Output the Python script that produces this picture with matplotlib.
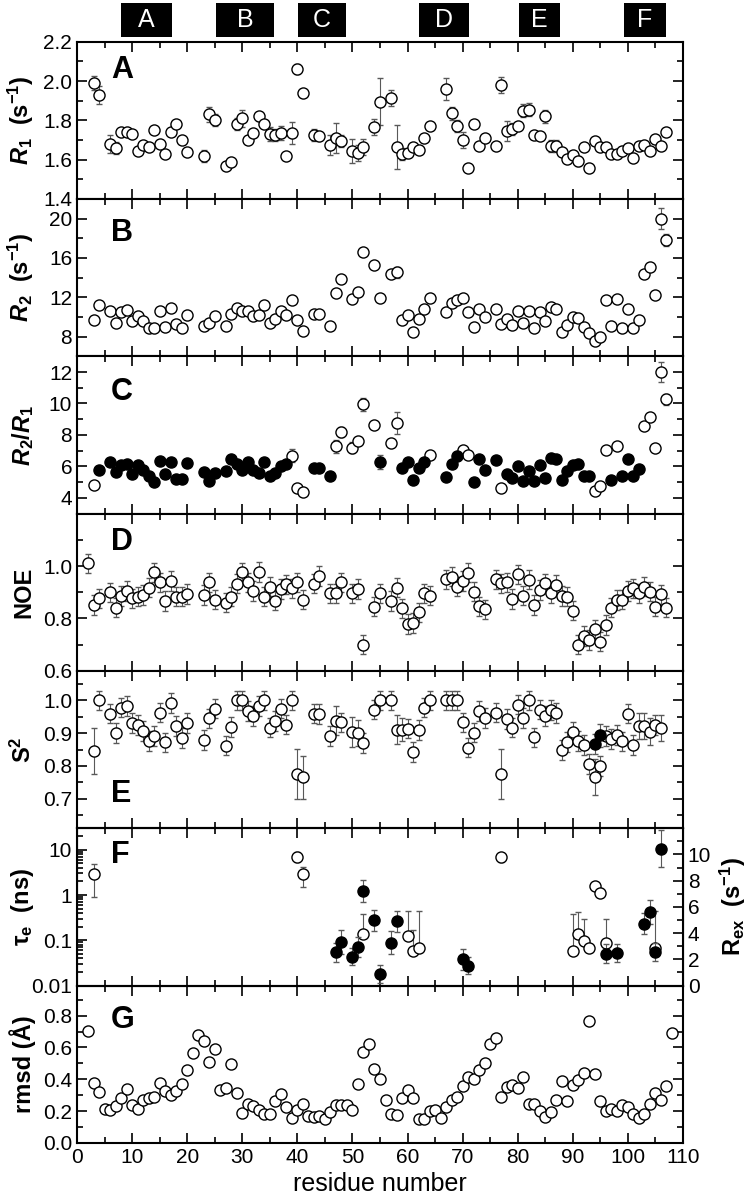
import matplotlib
matplotlib.use('Agg')
import matplotlib.pyplot as plt
import matplotlib.transforms as mtransforms
from matplotlib.patches import Rectangle
from matplotlib.ticker import MultipleLocator, LogLocator, NullFormatter

plt.rcParams['font.family'] = ['Liberation Sans', 'DejaVu Sans']
plt.rcParams['mathtext.fontset'] = 'custom'
plt.rcParams['mathtext.rm'] = 'Liberation Sans:bold'
plt.rcParams['mathtext.it'] = 'Liberation Sans:italic:bold'
plt.rcParams['mathtext.bf'] = 'Liberation Sans:bold'

# helices drawn as black boxes above the top panel
helix_names = ['A', 'B', 'C', 'D', 'E', 'F']
helix_start = [8.0, 25.3, 40.1, 62.1, 80.3, 99.2]
helix_end = [17.3, 35.8, 48.9, 71.2, 87.6, 106.9]

# residues with relaxation data (panels A-C)
res_relax = ([3, 4] + list(range(6, 21)) + [23, 24, 25] + list(range(27, 42)) + [43, 44]
             + [46, 47, 48] + [50, 51, 52] + [54, 55] + list(range(57, 65))
             + list(range(67, 75)) + list(range(76, 108)))

r1 = [1.99, 1.93,
      1.68, 1.66, 1.74, 1.74, 1.73, 1.645, 1.675, 1.665, 1.75, 1.68, 1.63, 1.74, 1.78, 1.70, 1.64,
      1.62, 1.83, 1.80,
      1.57, 1.59, 1.78, 1.81, 1.70, 1.735, 1.82, 1.78, 1.73, 1.725, 1.735, 1.62, 1.735, 2.06, 1.94,
      1.725, 1.72,
      1.675, 1.71, 1.695,
      1.645, 1.635, 1.665,
      1.765, 1.895,
      1.915, 1.665, 1.63, 1.635, 1.665, 1.65, 1.71, 1.77,
      1.96, 1.835, 1.77, 1.70, 1.56, 1.78, 1.67, 1.71,
      1.67, 1.98, 1.745, 1.755, 1.77, 1.85, 1.855, 1.725, 1.72, 1.82, 1.67, 1.67, 1.64, 1.605,
      1.625, 1.595, 1.665, 1.56, 1.695, 1.665, 1.665, 1.63, 1.63, 1.645, 1.66, 1.61, 1.67, 1.675,
      1.645, 1.705, 1.67, 1.74]
r1_err_default = 0.018
r1_err_extra = {3: 0.035, 4: 0.045, 6: 0.045, 7: 0.03, 23: 0.03, 24: 0.04, 25: 0.03, 29: 0.03,
                30: 0.045, 33: 0.025, 35: 0.035, 36: 0.03, 37: 0.035, 39: 0.055, 40: 0.025,
                43: 0.03, 46: 0.05, 47: 0.075, 48: 0.03, 50: 0.06, 51: 0.04, 52: 0.04, 54: 0.04,
                55: 0.12, 57: 0.04, 58: 0.11, 59: 0.03, 67: 0.055, 68: 0.035, 69: 0.03, 70: 0.04,
                77: 0.04, 78: 0.05, 79: 0.03, 81: 0.035, 82: 0.035, 85: 0.035, 86: 0.03,
                87: 0.03, 91: 0.025}

r2 = [9.74, 11.22,
      10.58, 9.37, 10.51, 10.7, 9.57, 10.07, 9.6, 8.89, 8.89, 10.65, 9.0, 10.92, 9.3, 8.89, 10.2,
      9.13, 9.4, 10.14,
      9.1, 10.28, 10.88, 10.65, 10.65, 10.14, 10.2, 11.26, 9.37, 9.84, 10.65, 10.18, 11.73, 9.67, 8.55,
      10.31, 10.28,
      9.1, 12.4, 13.86,
      11.8, 12.5, 16.59,
      15.27, 11.9,
      14.36, 14.56, 9.7, 10.24, 8.52, 9.8, 10.78, 11.96,
      10.51, 11.42, 11.73, 11.9, 10.55, 9.03, 10.82, 10.04,
      10.85, 9.3, 9.77, 9.23, 10.65, 9.43, 10.65, 8.83, 10.55, 9.57, 11.02, 10.78, 8.49, 9.16,
      9.97, 9.9, 9.03, 8.42, 7.51, 7.98, 11.76, 9.1, 11.83, 8.83, 10.82, 8.83, 9.74, 14.4,
      15.07, 12.27, 20.0, 17.87]
r2_err_default = 0.22
r2_err_extra = {39: 0.4, 52: 0.35, 57: 0.4, 58: 0.55, 105: 0.3, 106: 1.1, 107: 0.6}

r2r1 = [4.82, 5.74,
        6.27, 5.64, 6.08, 6.16, 5.51, 6.1, 5.78, 5.38, 4.98, 6.35, 5.49, 6.27, 5.17, 5.2, 6.2,
        5.64, 5.09, 5.57,
        5.72, 6.48, 6.14, 5.78, 6.25, 5.76, 5.55, 6.31, 5.38, 5.57, 6.0, 6.16, 6.69, 4.65, 4.38,
        5.93, 5.93,
        5.38, 7.27, 8.18,
        7.18, 7.59, 9.94,
        8.64, 6.27,
        7.48, 8.74, 5.89, 6.25, 5.13, 5.89, 6.29, 6.71,
        5.34, 6.18, 6.65, 7.02, 6.71, 4.98, 6.5, 5.8,
        6.4, 4.65, 5.53, 5.26, 6.0, 5.05, 5.72, 5.09, 6.1, 5.26, 6.56, 6.44, 5.15, 5.7, 6.1,
        6.18, 5.4, 5.4, 4.46, 4.78, 7.04, 5.15, 7.27, 5.36, 6.44, 5.42, 5.82, 8.56, 9.15, 7.17,
        12.0, 10.26]
r2r1_open_res = [3, 39, 40, 41, 47, 48, 50, 51, 52, 54, 57, 58, 64, 70, 71, 77, 94, 95, 96, 98,
                 103, 104, 105, 106, 107]
r2r1_err_default = 0.15
r2r1_err_extra = {3: 0.2, 39: 0.4, 47: 0.4, 48: 0.3, 50: 0.35, 52: 0.4, 55: 0.45, 58: 0.7,
                  64: 0.25, 96: 0.25, 106: 0.65, 107: 0.35}

# heteronuclear NOE
res_noe = [2] + res_relax
noe = [1.01, 0.851, 0.877,
       0.90, 0.841, 0.886, 0.905, 0.877, 0.883, 0.89, 0.917, 0.976, 0.938, 0.867, 0.943, 0.883,
       0.883, 0.893,
       0.89, 0.938, 0.872,
       0.86, 0.883, 0.933, 0.976, 0.938, 0.905, 0.978, 0.883, 0.921, 0.868, 0.912, 0.93, 0.915,
       0.938, 0.872,
       0.933, 0.962,
       0.896, 0.896, 0.938,
       0.896, 0.912, 0.70,
       0.845, 0.896,
       0.867, 0.917, 0.839, 0.779, 0.782, 0.823, 0.896, 0.887,
       0.949, 0.959, 0.921, 0.943, 0.975, 0.902, 0.846, 0.835,
       0.949, 0.934, 0.938, 0.874, 0.968, 0.887, 0.948, 0.851, 0.909, 0.934, 0.897, 0.928,
       0.886, 0.883, 0.83, 0.70, 0.733, 0.718, 0.759, 0.712, 0.775, 0.841, 0.87, 0.872, 0.905,
       0.915, 0.896, 0.921, 0.902, 0.845, 0.892, 0.841]
noe_err = 0.037

# order parameters
res_s2 = res_relax[:-1]
s2 = [0.846, 1.0,
      0.96, 0.901, 0.978, 0.983, 0.932, 0.925, 0.907, 0.876, 0.892, 0.963, 0.872, 0.993, 0.921,
      0.886, 0.932,
      0.879, 0.945, 0.975,
      0.862, 0.919, 1.0, 1.0, 0.968, 0.953, 0.983, 1.0, 0.917, 0.938, 0.975, 0.926, 1.0, 0.775,
      0.765,
      0.96, 0.958,
      0.892, 0.938, 0.933,
      0.904, 0.9, 0.869,
      0.972, 1.0,
      1.0, 0.911, 0.911, 0.914, 0.842, 0.909, 0.978, 1.0,
      1.0, 1.0, 1.0, 0.933, 0.856, 0.902, 0.967, 0.947,
      0.963, 0.775, 0.943, 0.917, 0.987, 0.947, 1.0, 0.887, 0.972, 0.953, 0.97, 0.962, 0.849,
      0.874, 0.904, 0.876, 0.864, 0.806, 0.766, 0.799, 0.891, 0.882, 0.895, 0.875, 0.96, 0.863,
      0.922, 0.922, 0.905, 0.925, 0.915]
s2_err_default = 0.03
s2_err_extra = {3: 0.07, 40: 0.076, 41: 0.065, 47: 0.045, 50: 0.045, 51: 0.04, 58: 0.045,
                59: 0.035, 77: 0.077, 94: 0.055, 102: 0.04, 103: 0.04, 104: 0.04, 106: 0.04}
s2_filled_res = [94, 95]
s2_filled = [0.866, 0.894]
s2_filled_err = [0.03, 0.035]

# internal correlation times (left axis) and exchange terms (right axis)
tau_res = [3, 40, 41, 52, 60, 61, 62, 77, 90, 91, 92, 93, 94, 95, 96, 105]
tau = [2.85, 6.9, 2.94, 0.135, 0.125, 0.058, 0.068, 6.8, 0.058, 0.14, 0.097, 0.066, 1.62, 1.12,
       0.089, 0.069]
tau_lo = [0.9, 5.5, 1.5, 0.12, 0.11, 0.05, 0.06, 5.5, 0.05, 0.12, 0.09, 0.055, 1.5, 0.9, 0.08, 0.06]
tau_hi = [4.8, 9.0, 4.1, 0.38, 0.45, 0.17, 0.45, 8.5, 0.39, 0.42, 0.30, 0.08, 1.8, 1.4, 0.30, 0.45]

rex_res = [47, 48, 50, 51, 52, 54, 55, 57, 58, 70, 71, 96, 98, 103, 104, 105, 106]
rex = [2.52, 3.3, 2.19, 2.92, 7.23, 4.96, 0.86, 3.27, 4.89, 2.02, 1.49, 2.43, 2.5, 4.72, 5.6,
       2.56, 10.43]
rex_err = [0.75, 0.9, 0.65, 0.75, 0.85, 0.8, 0.7, 0.85, 0.8, 0.8, 0.65, 0.7, 0.7, 0.8, 0.9, 0.7, 1.4]

# rmsd of the structure ensemble
res_rmsd = list(range(2, 109))
rmsd = [0.704, 0.375, 0.317, 0.215, 0.206, 0.233, 0.285, 0.34, 0.24, 0.215, 0.27, 0.28, 0.29,
        0.375, 0.323, 0.298, 0.327, 0.373, 0.456, 0.563, 0.68, 0.64, 0.506, 0.59, 0.333, 0.342,
        0.496, 0.313, 0.188, 0.244, 0.229, 0.208, 0.183, 0.183, 0.26, 0.306, 0.223, 0.156, 0.204,
        0.246, 0.167, 0.16, 0.171, 0.152, 0.194, 0.24, 0.235, 0.24, 0.204, 0.371, 0.569, 0.619,
        0.463, 0.402, 0.271, 0.183, 0.177, 0.281, 0.333, 0.281, 0.152, 0.15, 0.198, 0.208, 0.156,
        0.225, 0.269, 0.29, 0.358, 0.417, 0.402, 0.458, 0.5, 0.619, 0.66, 0.288, 0.354, 0.365,
        0.344, 0.413, 0.246, 0.246, 0.198, 0.163, 0.192, 0.267, 0.392, 0.26, 0.365, 0.396, 0.442,
        0.765, 0.431, 0.26, 0.198, 0.213, 0.198, 0.235, 0.223, 0.183, 0.156, 0.183, 0.246, 0.313,
        0.271, 0.358, 0.694]


def errs(res, default, extra):
    return [extra.get(r, default) for r in res]


def dots(ax, x, y, yerr=None, filled=False):
    ax.errorbar(x, y, yerr=yerr, fmt='o', ms=8, mfc='black' if filled else 'white',
                mec='black', mew=1.0, ecolor='0.35', elinewidth=0.8, capsize=2.5,
                capthick=0.8, zorder=3)


def pick(res, vals, keep):
    xs = [r for r in res if r in keep]
    ys = [v for r, v in zip(res, vals) if r in keep]
    return xs, ys


W, H = 748, 1200
left, right = 77, 683
top0, ph = 41.7, 157.3

fig = plt.figure(figsize=(W / 100, H / 100), dpi=100)
axes = []
for i in range(7):
    top = top0 + i * ph
    ax = fig.add_axes([left / W, 1 - (top + ph) / H, (right - left) / W, ph / H])
    ax.set_xlim(0, 110)
    ax.xaxis.set_major_locator(MultipleLocator(10))
    ax.xaxis.set_minor_locator(MultipleLocator(5))
    ax.tick_params(which='both', direction='in', top=True, right=True, width=1.2, labelsize=15)
    ax.tick_params(which='major', length=7)
    ax.tick_params(which='minor', length=4)
    if i < 6:
        ax.tick_params(labelbottom=False)
    for s in ax.spines.values():
        s.set_linewidth(1.5)
    axes.append(ax)

axA, axB, axC, axD, axE, axF, axG = axes
lab_kw = dict(fontsize=17, fontweight='bold')

# A: R1
dots(axA, res_relax, r1, errs(res_relax, r1_err_default, r1_err_extra))
axA.set_ylim(1.4, 2.2)
axA.set_yticks([1.4, 1.6, 1.8, 2.0, 2.2], ['1.4', '1.6', '1.8', '2.0', '2.2'])
axA.yaxis.set_minor_locator(MultipleLocator(0.1))
axA.set_ylabel(r'$R_1$  (s$^{-1}$)', **lab_kw)

# B: R2
dots(axB, res_relax, r2, errs(res_relax, r2_err_default, r2_err_extra))
axB.set_ylim(6, 22)
axB.set_yticks([8, 12, 16, 20])
axB.yaxis.set_minor_locator(MultipleLocator(2))
axB.set_ylabel(r'$R_2$  (s$^{-1}$)', **lab_kw)

# C: R2/R1, filled where the ratio is in the normal range
c_err = errs(res_relax, r2r1_err_default, r2r1_err_extra)
filled_res = [r for r in res_relax if r not in r2r1_open_res]
xo, yo = pick(res_relax, r2r1, r2r1_open_res)
_, eo = pick(res_relax, c_err, r2r1_open_res)
xf, yf = pick(res_relax, r2r1, filled_res)
_, ef = pick(res_relax, c_err, filled_res)
dots(axC, xo, yo, eo)
dots(axC, xf, yf, ef, filled=True)
axC.set_ylim(3, 13)
axC.set_yticks([4, 6, 8, 10, 12])
axC.yaxis.set_minor_locator(MultipleLocator(1))
axC.set_ylabel(r'$R_2$/$R_1$', **lab_kw)

# D: NOE
dots(axD, res_noe, noe, noe_err)
axD.set_ylim(0.6, 1.2)
axD.set_yticks([0.6, 0.8, 1.0], ['0.6', '0.8', '1.0'])
axD.yaxis.set_minor_locator(MultipleLocator(0.1))
axD.set_ylabel('NOE', **lab_kw)

# E: S2
dots(axE, res_s2, s2, errs(res_s2, s2_err_default, s2_err_extra))
dots(axE, s2_filled_res, s2_filled, s2_filled_err, filled=True)
axE.set_ylim(0.61, 1.09)
axE.set_yticks([0.7, 0.8, 0.9, 1.0], ['0.7', '0.8', '0.9', '1.0'])
axE.yaxis.set_minor_locator(MultipleLocator(0.05))
axE.set_ylabel(r'S$^{\rm 2}$', **lab_kw)

# F: tau_e (log, left) and Rex (right)
axF.set_yscale('log')
tau_err = [[t - lo for t, lo in zip(tau, tau_lo)], [hi - t for t, hi in zip(tau, tau_hi)]]
dots(axF, tau_res, tau, tau_err)
axF.set_ylim(0.01, 30)
axF.set_yticks([0.01, 0.1, 1, 10], ['0.01', '0.1', '1', '10'])
axF.yaxis.set_minor_locator(LogLocator(subs=range(2, 10)))
axF.yaxis.set_minor_formatter(NullFormatter())
axF.tick_params(which='both', right=False)
axF.set_ylabel(r'τ$_{\rm e}$  (ns)', **lab_kw)
axF2 = axF.twinx()
dots(axF2, rex_res, rex, rex_err, filled=True)
axF2.set_ylim(0, 12)
axF2.set_yticks([0, 2, 4, 6, 8, 10])
axF2.yaxis.set_minor_locator(MultipleLocator(1))
axF2.tick_params(which='both', direction='in', width=1.2, labelsize=15)
axF2.tick_params(which='major', length=7)
axF2.tick_params(which='minor', length=4)
axF2.set_ylabel(r'R$_{\rm ex}$  (s$^{-1}$)', **lab_kw)
axF2.yaxis.set_label_coords(1.058, 0.5)

# G: rmsd
dots(axG, res_rmsd, rmsd)
axG.set_ylim(0, 0.99)
axG.set_yticks([0.0, 0.2, 0.4, 0.6, 0.8], ['0.0', '0.2', '0.4', '0.6', '0.8'])
axG.yaxis.set_minor_locator(MultipleLocator(0.1))
axG.set_ylabel('rmsd (Å)', **lab_kw)
axG.set_xticks(range(0, 111, 10))
axG.set_xlabel('residue number', fontsize=18, labelpad=4)

for ax in axes:
    ax.yaxis.set_label_coords(-0.068, 0.5)

# panel letters
letter_pos = {'A': 0.82, 'B': 0.785, 'C': 0.77, 'D': 0.82, 'E': 0.22, 'F': 0.83, 'G': 0.78}
for ax, name in zip(axes, 'ABCDEFG'):
    ax.text(0.056, letter_pos[name], name, transform=ax.transAxes, fontsize=22,
            fontweight='bold', va='center', ha='left')

# helix boxes on top
trans = mtransforms.blended_transform_factory(axA.transData, fig.transFigure)
for name, x0, x1 in zip(helix_names, helix_start, helix_end):
    axA.add_patch(Rectangle((x0, 1 - 37 / H), x1 - x0, 34 / H, transform=trans,
                            facecolor='black', edgecolor='none', clip_on=False))
    axA.text((x0 + x1) / 2, 1 - 20 / H, name, transform=trans, color='white', fontsize=18,
             ha='center', va='center')

fig.savefig('out.png', dpi=100)
